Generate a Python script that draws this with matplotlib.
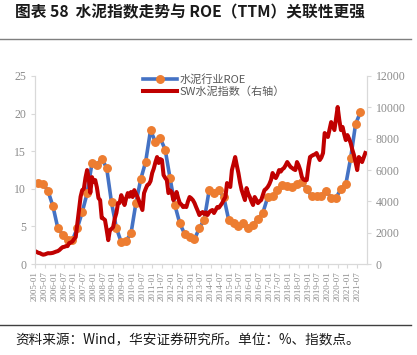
import numpy as np
import matplotlib.pyplot as plt
from matplotlib.lines import Line2D

plt.rcParams['font.family'] = ['Noto Sans CJK SC', 'DejaVu Sans']

# quarterly ROE (%), 2005-03 .. 2021-09
roe = [10.8, 10.7, 9.7, 7.7, 4.8, 3.9, 3.2, 3.2, 4.8, 6.9,
       9.4, 13.4, 13.2, 14.0, 12.8, 8.2, 4.8, 2.9, 3.1, 4.1,
       8.1, 11.3, 13.6, 17.8, 16.2, 16.7, 15.2, 11.4, 7.8, 5.4,
       4.0, 3.6, 3.3, 4.8, 5.9, 9.8, 9.4, 9.8, 8.9, 5.9,
       5.4, 5.1, 5.4, 4.8, 5.2, 6.0, 6.8, 8.9, 9.0, 9.8,
       10.5, 10.4, 10.2, 10.6, 10.9, 10.0, 9.0, 9.0, 9.0, 9.7,
       8.8, 8.8, 10.0, 10.6, 14.1, 18.6, 20.2]

# monthly SW cement index, 2005-01 .. 2021-12
sw = [830, 780, 720, 700, 640, 600, 620, 660, 700, 690, 700, 720,
      760, 800, 830, 900, 1000, 1085, 1100, 1150, 1150, 1340, 1380, 1450,
      1600, 1720, 2600, 3500, 4300, 4720, 4800, 5500, 6000, 5490, 4550, 5550,
      5230, 5360, 4900, 4210, 4085, 2940, 2900, 2810, 2200, 1530, 2170, 2250,
      2360, 2900, 3260, 3890, 3900, 4400, 4100, 3770, 4200, 4530, 4300, 4600,
      4280, 4720, 4500, 4280, 4000, 3700, 3450, 4530, 4800, 5040, 5100, 5300,
      5810, 6100, 6500, 6830, 6450, 6700, 6640, 5680, 5500, 5360, 4530, 4700,
      4600, 4085, 4300, 4600, 4200, 3890, 3800, 3640, 3700, 3640, 4000, 4280,
      4200, 4085, 3900, 3640, 3400, 3130, 3250, 3320, 3200, 3300, 3130, 3300,
      3400, 3450, 3260, 3450, 3640, 3600, 3750, 3890, 4100, 4280, 5170, 5000,
      4920, 6000, 6400, 6830, 6300, 5810, 5200, 4720, 4400, 4085, 4850, 4500,
      4280, 4000, 3770, 4280, 4100, 3890, 4000, 4085, 4400, 4720, 4800, 4920,
      5100, 5360, 5810, 5600, 5490, 5700, 6000, 5900, 6050, 6130, 6300, 6510,
      6350, 6200, 6130, 6050, 6000, 6510, 6300, 6000, 5550, 5400, 5350, 5360,
      6200, 6830, 6900, 6960, 7000, 7085, 6850, 6640, 6800, 7085, 8360, 8200,
      8110, 8600, 9060, 8800, 8550, 9300, 10020, 9200, 8550, 8750, 8300, 7910,
      8230, 8000, 7720, 7300, 6960, 6500, 6000, 6830, 6700, 6510, 6800, 7085]

tick_labels = ['%d-%02d' % (y, m) for y in range(2005, 2022) for m in (1, 7)]

roe_x = np.arange(len(roe)) * 3 + 2
sw_x = np.arange(len(sw))

blue = '#4472C4'
orange = '#ED7D31'
red = '#C00000'
gray = '#8C8C8C'
serif = 'Liberation Serif'

fig = plt.figure(figsize=(4.17, 3.55), dpi=100)
ax = fig.add_axes([0.084, 0.256, 0.796, 0.530])
ax2 = ax.twinx()

ax.plot(roe_x, roe, color=blue, lw=2.6, marker='o', ms=5.4,
        mfc=orange, mec=orange, zorder=2)
ax2.plot(sw_x, sw, color=red, lw=2.9, solid_joinstyle='round')

ax.set_xlim(0, 204)
ax.set_ylim(0, 25)
ax2.set_ylim(0, 12000)
ax.set_yticks(range(0, 26, 5))
ax2.set_yticks(range(0, 12001, 2000))
ax.set_xticks(range(0, 199, 6))
ax.set_xticklabels(tick_labels, rotation=90, family=serif, fontsize=6.5, color=gray)

for a in (ax, ax2):
    for s in a.spines.values():
        s.set_color('#D9D9D9')
    a.spines['top'].set_visible(False)
    a.tick_params(colors='#D9D9D9', labelcolor=gray, length=3, width=0.8)
    for lab in a.get_yticklabels():
        lab.set_family(serif)
        lab.set_fontsize(8.5)
ax.tick_params(axis='x', length=3, pad=2)

handles = [Line2D([], [], color=blue, lw=2.6, marker='o', ms=5.4, mfc=orange, mec=orange),
           Line2D([], [], color=red, lw=2.9)]
leg = ax.legend(handles, ['水泥行业ROE', 'SW水泥指数（右轴）'], loc='upper center',
                bbox_to_anchor=(0.54, 1.065), frameon=False, fontsize=8,
                handlelength=3.0, handletextpad=0.3, labelspacing=0.2,
                labelcolor='#595959')

fig.text(0.036, 0.965, '图表 58  水泥指数走势与 ROE（TTM）关联性更强',
         fontsize=11.3, weight='bold', va='center', color='#1a1a1a')
fig.add_artist(Line2D([0.0, 0.985], [0.89, 0.89], color='#7F7F7F', lw=1))
fig.add_artist(Line2D([0.0, 0.985], [0.085, 0.085], color='#404040', lw=1))
fig.text(0.036, 0.042, '资料来源：Wind，华安证券研究所。单位：%、指数点。',
         fontsize=9.8, va='center', color='#1a1a1a')

fig.savefig('out.png', dpi=100)
